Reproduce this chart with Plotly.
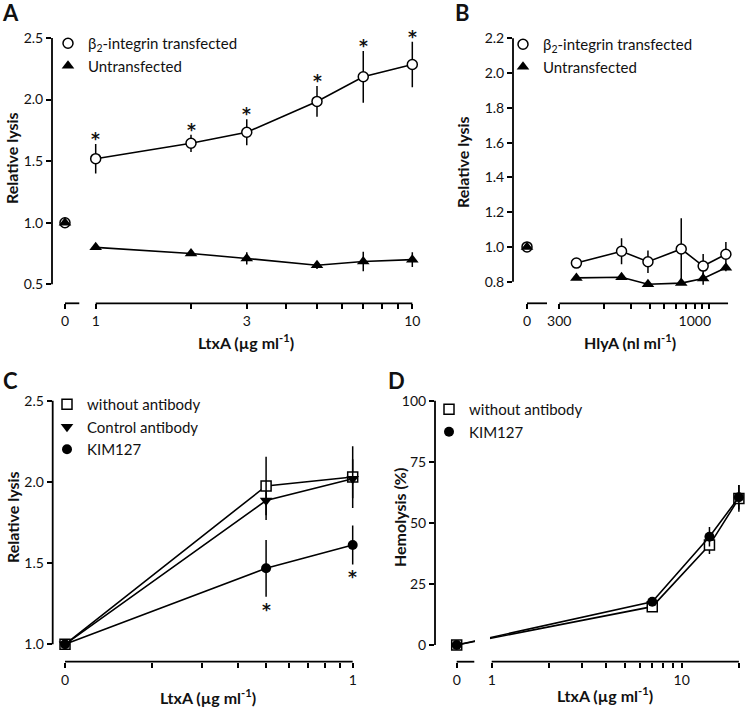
import math
import plotly.graph_objects as go

W, H = 750, 707
FONT = "Lato"

# ---------------- Panel A (LtxA, beta2-integrin transfected vs untransfected) ----------------
A_dose = [0, 1, 2, 3, 5, 7, 10]
A_trans = [1.00, 1.52, 1.645, 1.735, 1.985, 2.185, 2.285]
A_trans_err = [0.0, 0.12, 0.07, 0.105, 0.125, 0.21, 0.185]
A_untr = [1.00, 0.80, 0.75, 0.71, 0.655, 0.685, 0.70]
A_untr_err = [0.0, 0.02, 0.02, 0.05, 0.03, 0.08, 0.06]
A_sig = [False, True, True, True, True, True, True]
A_xticks = [0, 1, 2, 3, 4, 5, 6, 7, 8, 9, 10]
A_xticklabels = ["0", "1", "", "3", "", "", "", "", "", "", "10"]
A_yticks = [0.5, 1.0, 1.5, 2.0, 2.5]

# ---------------- Panel B (HlyA) ----------------
B_dose = [0, 330, 460, 590, 850, 1110, 1490]
B_trans = [1.00, 0.907, 0.975, 0.915, 0.988, 0.89, 0.958]
B_trans_err = [0.0, 0.01, 0.075, 0.065, 0.177, 0.07, 0.07]
B_untr = [1.00, 0.822, 0.826, 0.785, 0.792, 0.818, 0.88]
B_untr_err = [0.0, 0.0, 0.0, 0.0, 0.0, 0.035, 0.02]
B_xticks = [0, 300, 400, 500, 600, 700, 800, 900, 1000, 1100, 1200]
B_xticklabels = ["0", "300", "", "", "", "", "", "", "1000", "", ""]
B_yticks = [0.8, 1.0, 1.2, 1.4, 1.6, 1.8, 2.0, 2.2]

# ---------------- Panel C (antibodies, relative lysis) ----------------
C_dose = [0, 0.5, 1]
C_none = [1.0, 1.975, 2.03]
C_none_err = [0.0, 0.18, 0.19]
C_ctrl = [1.0, 1.885, 2.02]
C_ctrl_err = [0.0, 0.12, 0.12]
C_kim = [1.0, 1.468, 1.612]
C_kim_err = [0.0, 0.175, 0.12]
C_sig = [False, True, True]
C_xticks = [0, 0.2, 0.3, 0.4, 0.5, 0.6, 0.7, 0.8, 0.9, 1]
C_xticklabels = ["0", "", "", "", "", "", "", "", "", "1"]
C_yticks = [1.0, 1.5, 2.0, 2.5]

# ---------------- Panel D (hemolysis) ----------------
D_dose = [0, 7, 14, 20]
D_none = [0.0, 15.7, 40.9, 60.0]
D_none_err = [0.0, 1.0, 3.7, 5.5]
D_kim = [0.0, 17.7, 44.3, 60.5]
D_kim_err = [0.0, 1.0, 4.0, 5.0]
D_xticks = [0, 1, 2, 3, 4, 5, 6, 7, 8, 9, 10, 20]
D_xticklabels = ["0", "1", "", "", "", "", "", "", "", "", "10", ""]
D_yticks = [0, 25, 50, 75, 100]


# axis transforms (broken log axes: "0" is placed on its own short segment)
def ua(x):
    return math.log10(x) if x > 0 else -0.097


def ub(x):
    return math.log10(x - 200) if x > 0 else 1.7847


def uc(x):
    return math.log10(x) if x > 0 else -1.0


def ud(x):
    return math.log10(x) if x > 0 else -0.1842


def px(x):
    return x / W


def py(y):
    return 1 - y / H


fig = go.Figure()
BLK = "black"
LW = 1.6


def err(arr):
    return dict(type="data", array=arr, visible=True, thickness=1.5, width=0, color=BLK)


open_circle = dict(symbol="circle", size=10, color="white", line=dict(color=BLK, width=1.5))
tri_up = dict(symbol="triangle-up", size=11, color=BLK, line=dict(color=BLK, width=0))
tri_down = dict(symbol="triangle-down", size=11, color=BLK, line=dict(color=BLK, width=0))
open_square = dict(symbol="square", size=10, color="white", line=dict(color=BLK, width=1.5))
fill_circle = dict(symbol="circle", size=10, color=BLK, line=dict(color=BLK, width=0))

# ----- Panel A traces -----
for vals, errs, mk in [(A_trans, A_trans_err, open_circle), (A_untr, A_untr_err, tri_up)]:
    fig.add_trace(go.Scatter(x=[ua(d) for d in A_dose[:1]], y=vals[:1], mode="markers",
                             marker=mk, error_y=err(errs[:1]), xaxis="x", yaxis="y",
                             showlegend=False, cliponaxis=False))
    fig.add_trace(go.Scatter(x=[ua(d) for d in A_dose[1:]], y=vals[1:], mode="lines+markers",
                             line=dict(color=BLK, width=LW), marker=mk, error_y=err(errs[1:]),
                             xaxis="x", yaxis="y", showlegend=False, cliponaxis=False))
fig.add_trace(go.Scatter(x=[None], y=[None], mode="markers", marker=open_circle,
                         name="β<sub>2</sub>-integrin transfected", legend="legend", xaxis="x", yaxis="y"))
fig.add_trace(go.Scatter(x=[None], y=[None], mode="markers", marker=tri_up,
                         name="Untransfected", legend="legend", xaxis="x", yaxis="y"))

# ----- Panel B traces -----
for vals, errs, mk in [(B_trans, B_trans_err, open_circle), (B_untr, B_untr_err, tri_up)]:
    fig.add_trace(go.Scatter(x=[ub(d) for d in B_dose[:1]], y=vals[:1], mode="markers",
                             marker=mk, error_y=err(errs[:1]), xaxis="x2", yaxis="y2",
                             showlegend=False, cliponaxis=False))
    fig.add_trace(go.Scatter(x=[ub(d) for d in B_dose[1:]], y=vals[1:], mode="lines+markers",
                             line=dict(color=BLK, width=LW), marker=mk, error_y=err(errs[1:]),
                             xaxis="x2", yaxis="y2", showlegend=False, cliponaxis=False))
fig.add_trace(go.Scatter(x=[None], y=[None], mode="markers", marker=open_circle,
                         name="β<sub>2</sub>-integrin transfected", legend="legend2", xaxis="x2", yaxis="y2"))
fig.add_trace(go.Scatter(x=[None], y=[None], mode="markers", marker=tri_up,
                         name="Untransfected", legend="legend2", xaxis="x2", yaxis="y2"))

# ----- Panel C traces -----
for vals, errs, mk in [(C_none, C_none_err, open_square),
                       (C_ctrl, C_ctrl_err, tri_down),
                       (C_kim, C_kim_err, fill_circle)]:
    fig.add_trace(go.Scatter(x=[uc(d) for d in C_dose], y=vals, mode="lines+markers",
                             line=dict(color=BLK, width=LW), marker=mk, error_y=err(errs),
                             xaxis="x3", yaxis="y3", showlegend=False, cliponaxis=False))
for mk, nm in [(open_square, "without antibody"), (tri_down, "Control antibody"), (fill_circle, "KIM127")]:
    fig.add_trace(go.Scatter(x=[None], y=[None], mode="markers", marker=mk, name=nm,
                             legend="legend3", xaxis="x3", yaxis="y3"))

# ----- Panel D traces -----
for vals, errs, mk in [(D_none, D_none_err, open_square), (D_kim, D_kim_err, fill_circle)]:
    fig.add_trace(go.Scatter(x=[ud(d) for d in D_dose], y=vals, mode="lines+markers",
                             line=dict(color=BLK, width=LW), marker=mk, error_y=err(errs),
                             xaxis="x4", yaxis="y4", showlegend=False, cliponaxis=False))
for mk, nm in [(open_square, "without antibody"), (fill_circle, "KIM127")]:
    fig.add_trace(go.Scatter(x=[None], y=[None], mode="markers", marker=mk, name=nm,
                             legend="legend4", xaxis="x4", yaxis="y4"))

tickfont = dict(family=FONT, size=14, color="#111")


def xax(dom, rng, tv, tt, f, anchor):
    major = [(f(v), t) for v, t in zip(tv, tt) if t]
    minor = [f(v) for v, t in zip(tv, tt) if not t]
    return dict(domain=[px(dom[0]), px(dom[1])], range=rng, anchor=anchor, showline=False,
                zeroline=False, showgrid=False, ticks="outside", ticklen=5, tickwidth=1.5,
                tickcolor=BLK, tickmode="array", tickvals=[m[0] for m in major],
                ticktext=[m[1] for m in major], tickfont=tickfont, fixedrange=True,
                minor=dict(tickmode="array", tickvals=minor, ticks="outside", ticklen=5,
                           tickwidth=1.5, tickcolor=BLK, showgrid=False))


def yax(dom, rng, tv, anchor, fmt=".1f"):
    return dict(domain=[py(dom[1]), py(dom[0])], range=rng, anchor=anchor, showline=False,
                zeroline=False, showgrid=False, ticks="outside", ticklen=5, tickwidth=1.5,
                tickcolor=BLK, tickmode="array", tickvals=tv, tickfont=tickfont,
                tickformat=fmt, fixedrange=True)


layout = dict(
    width=W, height=H, margin=dict(l=0, r=0, t=0, b=0, autoexpand=False),
    paper_bgcolor="white", plot_bgcolor="white",
    xaxis=xax((52, 420), [-0.138, 1.0243], A_xticks, A_xticklabels, ua, "y"),
    yaxis=yax((20, 303.3), [0.3457, 2.646], A_yticks, "x"),
    xaxis2=xax((513, 735), [1.6913, 3.1713], B_xticks, B_xticklabels, ub, "y2"),
    yaxis2=yax((20, 303.3), [0.6758, 2.3053], B_yticks, "x2"),
    xaxis3=xax((52.7, 360), [-1.0428, 0.0254], C_xticks, C_xticklabels, uc, "y3"),
    yaxis3=yax((390, 661.7), [0.8929, 2.5659], C_yticks, "x3"),
    xaxis4=xax((435, 745), [-0.2984, 1.3332], D_xticks, D_xticklabels, ud, "y4"),
    yaxis4=yax((390, 661.7), [-6.836, 104.38], D_yticks, "x4", "d"),
)

legfont = dict(family=FONT, size=15, color="#111")


def leg(xp, yp):
    return dict(x=px(xp), y=py(yp), xanchor="left", yanchor="top", bgcolor="rgba(0,0,0,0)",
                font=legfont, itemwidth=30, tracegroupgap=0, borderwidth=0)


layout["legend"] = leg(48, 27)
layout["legend2"] = leg(503, 28)
layout["legend3"] = leg(47, 388)
layout["legend4"] = leg(429, 393)
fig.update_layout(**layout)

# ----- axis spines as segments -----
shapes = []


def seg_x(xr, yr, a, b):
    shapes.append(dict(type="line", xref=xr, yref=yr + " domain", x0=a, x1=b, y0=0, y1=0,
                       line=dict(color=BLK, width=1.8), layer="above"))


def seg_y(xr, yr, a, b):
    shapes.append(dict(type="line", xref=xr + " domain", yref=yr, x0=0, x1=0, y0=a, y1=b,
                       line=dict(color=BLK, width=1.8), layer="above"))


seg_y("x", "y", A_yticks[0], A_yticks[-1])
seg_x("x", "y", ua(0), -0.0518)
seg_x("x", "y", ua(1), ua(10))
seg_y("x2", "y2", B_yticks[0], B_yticks[-1])
seg_x("x2", "y2", ub(0), 1.918)
seg_x("x2", "y2", ub(300), 3.125)
seg_y("x3", "y3", C_yticks[0], C_yticks[-1])
seg_x("x3", "y3", uc(0.1), uc(1))
seg_y("x4", "y4", D_yticks[0], D_yticks[-1])
seg_x("x4", "y4", ud(0), -0.0916)
seg_x("x4", "y4", ud(1), ud(20))
# gap in the D connecting line at the axis break
shapes.append(dict(type="rect", xref="x4", yref="y4", x0=-0.088, x1=-0.009, y0=-2, y1=8,
                   fillcolor="white", line=dict(width=0), layer="above"))
fig.update_layout(shapes=shapes)

# ----- annotations -----
ann = []
titlefont = dict(family=FONT, size=16, color="#111")
letterfont = dict(family=FONT, size=22, color="#111")


def text(x, y, t, font, angle=0):
    ann.append(dict(x=px(x), y=py(y), xref="paper", yref="paper", text=t, showarrow=False,
                    font=font, textangle=angle, xanchor="center", yanchor="middle"))


text(10, 13, "<b>A</b>", letterfont)
text(462, 13, "<b>B</b>", letterfont)
text(10, 381, "<b>C</b>", letterfont)
text(396, 381, "<b>D</b>", letterfont)
text(12, 158, "<b>Relative lysis</b>", titlefont, -90)
text(462, 162, "<b>Relative lysis</b>", titlefont, -90)
text(12, 517, "<b>Relative lysis</b>", titlefont, -90)
text(399, 518, "<b>Hemolysis (%)</b>", titlefont, -90)
text(246, 341, "<b>LtxA (µg ml<sup>-1</sup>)</b>", titlefont)
text(630, 341, "<b>HlyA (nl ml<sup>-1</sup>)</b>", titlefont)
text(208, 696, "<b>LtxA (µg ml<sup>-1</sup>)</b>", titlefont)
text(605, 694, "<b>LtxA (µg ml<sup>-1</sup>)</b>", titlefont)

starfont = dict(family="DejaVu Sans", size=17, color="#111")
for d, v, e, s in zip(A_dose, A_trans, A_trans_err, A_sig):
    if s:
        ann.append(dict(x=ua(d), y=v + e, xref="x", yref="y", text="<b>*</b>", showarrow=False,
                        font=starfont, xanchor="center", yanchor="bottom", yshift=-7))
for d, v, e, s in zip(C_dose, C_kim, C_kim_err, C_sig):
    if s:
        ann.append(dict(x=uc(d), y=v - e, xref="x3", yref="y3", text="<b>*</b>", showarrow=False,
                        font=starfont, xanchor="center", yanchor="top", yshift=-1))
fig.update_layout(annotations=ann)

fig.write_html("out.html", config={"displayModeBar": False},
               post_script="document.body.style.margin='0px';")
